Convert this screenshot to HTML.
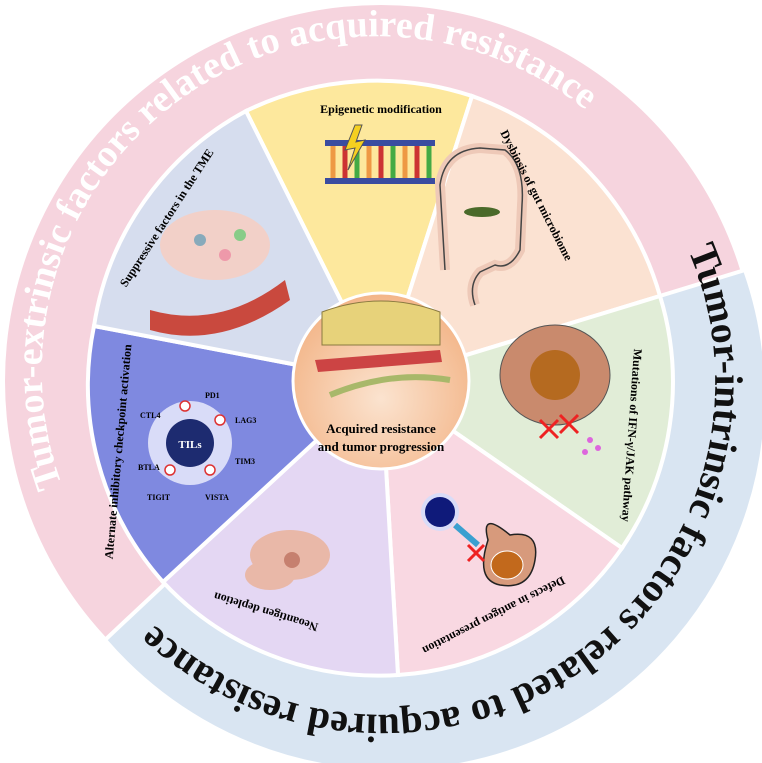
<!DOCTYPE html>
<html><head><meta charset="utf-8"><style>
html,body{margin:0;padding:0;background:#fff;width:762px;height:763px;overflow:hidden}
svg{display:block}
text{font-family:"Liberation Serif",serif;font-weight:bold}
</style></head><body>
<svg width="762" height="763" viewBox="0 0 762 763">
<defs>
<path id="arcTop" d="M 62 485 A 333 333 0 0 1 690 256"/>
<path id="arcBot" d="M 688 250 A 333 333 0 0 1 158 628"/>
<radialGradient id="cg" cx="50%" cy="60%" r="60%"><stop offset="0" stop-color="#fbe3cf"/><stop offset="1" stop-color="#f3b588"/></radialGradient>
</defs>
<circle cx="381" cy="381" r="376" fill="#f6d4de"/>
<path d="M 745 270 A 376 376 0 0 1 105 640 L 381 381 Z" fill="#d9e5f2" stroke="#fff" stroke-width="4"/>
<text font-size="38" fill="#fff"><textPath href="#arcTop">Tumor-extrinsic factors related to acquired resistance</textPath></text>
<text font-size="40" fill="#111"><textPath href="#arcBot">Tumor-intrinsic factors related to acquired resistance</textPath></text>
<g stroke="#fff" stroke-width="4">
<path d="M381 381 L246 111 A300 300 0 0 1 472 96 Z" fill="#fde89d"/>
<path d="M381 381 L472 96 A300 300 0 0 1 660 296 Z" fill="#fbe2d2"/>
<path d="M381 381 L660 296 A295 295 0 0 1 622 548 Z" fill="#e1edd7"/>
<path d="M381 381 L622 548 A295 295 0 0 1 398 675 Z" fill="#f9d8e2"/>
<path d="M381 381 L398 675 A295 295 0 0 1 163 582 Z" fill="#e4d7f3"/>
<path d="M381 381 L163 582 A295 295 0 0 1 94 326 Z" fill="#7f89e0"/>
<path d="M381 381 L94 326 A295 295 0 0 1 246 111 Z" fill="#d6ddee"/>
</g>
<!-- icons -->
<g>
<rect x="325" y="140" width="110" height="6" fill="#3a4ca0"/><rect x="325" y="178" width="110" height="6" fill="#3a4ca0"/>
<g stroke-width="5"><line x1="333" y1="146" x2="333" y2="178" stroke="#e94"/><line x1="345" y1="146" x2="345" y2="178" stroke="#c33"/><line x1="357" y1="146" x2="357" y2="178" stroke="#4a4"/><line x1="369" y1="146" x2="369" y2="178" stroke="#e94"/><line x1="381" y1="146" x2="381" y2="178" stroke="#c33"/><line x1="393" y1="146" x2="393" y2="178" stroke="#4a4"/><line x1="405" y1="146" x2="405" y2="178" stroke="#e94"/><line x1="417" y1="146" x2="417" y2="178" stroke="#c33"/><line x1="429" y1="146" x2="429" y2="178" stroke="#4a4"/></g>
<polygon points="355,125 345,150 355,148 348,170 365,140 356,142 362,125" fill="#f5d020" stroke="#555"/>
</g>
<g fill="none">
<path d="M445 270 L440 185 Q445 150 480 148 L505 150 Q525 165 522 205 L520 250 Q510 270 495 265 L480 272 Q468 285 475 305" stroke="#eec9b8" stroke-width="10"/>
<path d="M445 270 L440 185 Q445 150 480 148 L505 150 Q525 165 522 205 L520 250 Q510 270 495 265 L480 272 Q468 285 475 305" stroke="#444" stroke-width="1.5"/>
<ellipse cx="482" cy="212" rx="18" ry="5" fill="#4a6a2a"/>
</g>
<g>
<ellipse cx="215" cy="245" rx="55" ry="35" fill="#f2d0c8"/>
<path d="M150 310 Q220 330 285 280 L290 300 Q220 350 150 330 Z" fill="#c9493e"/>
<circle cx="200" cy="240" r="6" fill="#8ab"/><circle cx="225" cy="255" r="6" fill="#e9a"/><circle cx="240" cy="235" r="6" fill="#8c8"/>
</g>
<g>
<circle cx="190" cy="443" r="42" fill="#d9dcf8"/>
<circle cx="190" cy="443" r="24" fill="#1d2b70"/>
<text x="190" y="448" font-size="11" fill="#fff" text-anchor="middle">TILs</text>
<g font-size="8">
<text x="205" y="398">PD1</text><text x="140" y="418">CTL4</text><text x="235" y="423">LAG3</text><text x="235" y="464">TIM3</text><text x="138" y="470">BTLA</text><text x="147" y="500">TIGIT</text><text x="205" y="500">VISTA</text>
</g>
<g fill="#fff" stroke="#d33" stroke-width="1.5"><circle cx="185" cy="406" r="5"/><circle cx="170" cy="470" r="5"/><circle cx="210" cy="470" r="5"/><circle cx="220" cy="420" r="5"/></g>
</g>
<g fill="#e9b8a8">
<ellipse cx="290" cy="555" rx="40" ry="25"/><ellipse cx="270" cy="575" rx="25" ry="15"/><circle cx="292" cy="560" r="8" fill="#c6806f"/>
</g>
<g>
<circle cx="440" cy="512" r="19" fill="#d9dcf8"/>
<circle cx="440" cy="512" r="15" fill="#0f1a7a"/>
<path d="M455 525 L478 545" stroke="#3aa0d0" stroke-width="6"/>
<path d="M488 540 Q480 510 510 535 Q540 530 535 560 Q530 590 500 585 Q475 580 488 540 Z" fill="#d79a7c" stroke="#222" stroke-width="1.5"/>
<ellipse cx="507" cy="565" rx="16" ry="14" fill="#c2691c" stroke="#fff"/>
<path d="M468 545 l16 16 m0 -16 l-16 16" stroke="#e22" stroke-width="3"/>
</g>
<g>
<ellipse cx="555" cy="375" rx="55" ry="50" fill="#c98a6d" stroke="#555"/>
<ellipse cx="555" cy="375" rx="25" ry="25" fill="#b56a20"/>
<path d="M540 420 l18 18 m0 -18 l-18 18 M560 415 l18 18 m0 -18 l-18 18" stroke="#e22" stroke-width="3"/>
<g fill="#d6d"><circle cx="590" cy="440" r="3"/><circle cx="598" cy="448" r="3"/><circle cx="585" cy="452" r="3"/></g>
</g>
<!-- labels -->
<text x="381" y="113" font-size="12" text-anchor="middle">Epigenetic modification</text>
<text transform="translate(533,197) rotate(63)" font-size="12" text-anchor="middle">Dysbiosis of gut microbiome</text>
<text transform="translate(628,435) rotate(94)" font-size="12" text-anchor="middle">Mutations of IFN-γ/JAK pathway</text>
<text transform="translate(492,612) rotate(153)" font-size="12" text-anchor="middle">Defects in antigen presentation</text>
<text transform="translate(267,608) rotate(197)" font-size="12" text-anchor="middle">Neoantigen depletion</text>
<text transform="translate(122,452) rotate(-85)" font-size="12" text-anchor="middle">Alternate inhibitory checkpoint activation</text>
<text transform="translate(170,220) rotate(-57)" font-size="12" text-anchor="middle">Suppressive factors in the TME</text>
<!-- center -->
<circle cx="381" cy="381" r="88" fill="url(#cg)" stroke="#fff" stroke-width="3"/>
<g>
<path d="M322 312 Q381 290 440 312 L440 345 L322 345 Z" fill="#e7d27a" stroke="#8a7a40"/>
<path d="M315 360 L440 350 L442 362 L318 372 Z" fill="#c44"/>
<path d="M330 395 Q390 370 450 380" stroke="#a8b86a" stroke-width="6" fill="none"/>
</g>
<text x="381" y="433" font-size="13" text-anchor="middle">Acquired resistance</text>
<text x="381" y="451" font-size="13" text-anchor="middle">and tumor progression</text>
</svg>
</body></html>
